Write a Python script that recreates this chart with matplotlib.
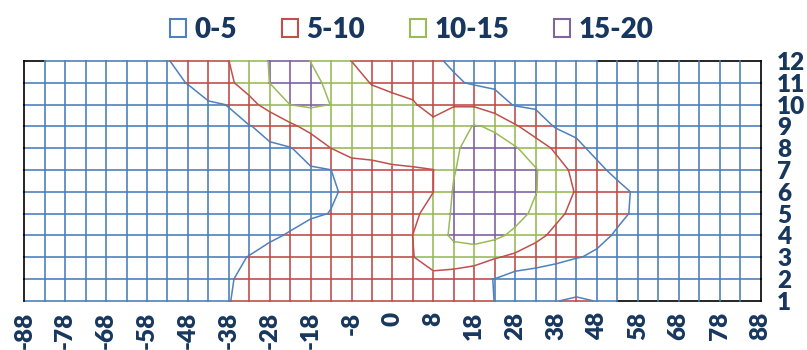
import numpy as np
import matplotlib.pyplot as plt
from matplotlib.collections import LineCollection
from matplotlib.patches import Patch

plt.rcParams['font.family'] = ['Lato', 'DejaVu Sans']

# category axis labels (every second column is labelled)
x_labels = ['-88', '-78', '-68', '-58', '-48', '-38', '-28', '-18', '-8', '0',
            '8', '18', '28', '38', '48', '58', '68', '78', '88']
y_labels = ['1', '2', '3', '4', '5', '6', '7', '8', '9', '10', '11', '12']

band_names = ['0-5', '5-10', '10-15', '15-20']
band_colors = ['#4F81BD', '#C0504D', '#9BBB59', '#8064A2']
levels = [5, 10, 15]

# surface values, one list per series (series 1 = bottom row)
row_1 = [0, 0.5, 1.0, 1.5, 2.0, 2.5, 3.0, 3.5, 4.0, 4.45, 4.89, 6.0, 6.4, 6.8, 7.1, 7.4, 7.6, 7.7,
         7.7, 7.6, 7.3, 6.8, 6.0, 4.97, 4.9, 4.85, 4.79, 5.8, 4.79, 0, 0, 0, 0, 0, 0, 0, 0]
row_2 = [0, 0.48, 0.97, 1.45, 1.93, 2.42, 2.9, 3.38, 3.86, 4.35, 4.83, 5.5, 6.0, 6.5, 7.0, 7.5, 7.9,
         8.3, 8.6, 8.9, 8.94, 7.55, 5.2, 4.98, 2.8, 2.2, 1.4, 1.2, 1.0, 0.9, 0.8, 0.7, 0.55, 0.4, 0.3,
         0.15, 0]
row_3 = [0, 0.46, 0.92, 1.38, 1.83, 2.29, 2.75, 3.21, 3.67, 4.13, 4.59, 5.06, 5.66, 6.27, 6.87, 7.47,
         8.07, 8.67, 9.28, 9.88, 11.8, 13.0, 13.2, 10.4, 9.07, 7.84, 6.6, 5.2, 4.5, 4.0, 3.45, 2.87,
         2.3, 1.72, 1.15, 0.57, 0]
row_4 = [0, 0.39, 0.78, 1.17, 1.56, 1.95, 2.34, 2.73, 3.13, 3.52, 3.91, 4.3, 4.69, 5.16, 5.97, 6.77,
         7.58, 8.39, 9.19, 10.02, 12.94, 15.8, 16.3, 16.2, 13.89, 11.11, 9.03, 7.42, 5.81, 4.67, 4.0,
         3.33, 2.67, 2.0, 1.33, 0.67, 0]
row_5 = [0, 0.33, 0.67, 1.0, 1.34, 1.67, 2.0, 2.34, 2.68, 3.01, 3.34, 3.68, 4.01, 4.35, 4.68, 5.06,
         6.16, 7.27, 8.38, 9.48, 11.0, 15.8, 17.3, 17.5, 16.8, 13.99, 10.92, 8.86, 7.23, 5.6, 4.53,
         3.77, 3.0, 2.26, 1.5, 0.75, 0]
row_6 = [0, 0.32, 0.64, 0.96, 1.28, 1.6, 1.91, 2.23, 2.55, 2.87, 3.19, 3.51, 3.83, 4.15, 4.47, 4.79,
         5.37, 6.53, 7.69, 8.84, 9.97, 15.4, 17.5, 18.0, 17.5, 15.2, 12.36, 9.67, 7.72, 5.78, 4.55,
         3.8, 3.03, 2.27, 1.5, 0.75, 0]
row_7 = [0, 0.33, 0.66, 0.99, 1.32, 1.66, 1.99, 2.32, 2.65, 2.98, 3.31, 3.64, 3.97, 4.3, 4.64, 4.97,
         8.78, 8.77, 9.4, 9.65, 9.95, 14.7, 17.5, 18.0, 17.0, 15.34, 11.9, 8.78, 5.6, 4.3, 3.7, 3.1,
         2.5, 1.9, 1.25, 0.6, 0]
row_8 = [0, 0.37, 0.74, 1.11, 1.48, 1.85, 2.22, 2.59, 2.96, 3.33, 3.7, 4.07, 4.44, 4.81, 6.67, 10.02,
         11.0, 11.5, 11.8, 12.0, 12.5, 14.6, 15.9, 16.3, 15.47, 12.34, 9.24, 5.6, 4.3, 3.8, 3.3, 2.8,
         2.2, 1.7, 1.1, 0.55, 0]
row_9 = [0, 0.43, 0.87, 1.3, 1.74, 2.17, 2.6, 3.04, 3.48, 3.91, 4.35, 4.78, 6.32, 8.95, 11.6, 12.5,
         12.8, 12.6, 12.4, 12.2, 12.0, 12.7, 15.3, 14.5, 10.59, 7.5, 4.6, 4.3, 4.0, 3.6, 3.2, 2.8, 2.3,
         1.8, 1.2, 0.6, 0]
row_10 = [0, 0.51, 1.01, 1.52, 2.03, 2.54, 3.04, 3.55, 4.06, 4.56, 5.1, 8.61, 11.8, 15.05, 15.6,
          14.97, 13.6, 12.3, 11.5, 10.65, 7.4, 9.7, 9.4, 7.0, 4.64, 4.3, 4.0, 3.7, 3.35, 3.0, 2.6, 2.2,
          1.8, 1.4, 0.95, 0.5, 0]
row_11 = [0, 0.63, 1.26, 1.88, 2.51, 3.14, 3.77, 4.40, 5.08, 7.17, 9.27, 11.97, 15.05, 16.2, 15.6,
          14.51, 11.93, 9.74, 8.70, 7.66, 6.62, 5.57, 4.5, 4.15, 3.8, 3.45, 3.1, 2.8, 2.5, 2.2, 1.9,
          1.6, 1.3, 1.0, 0.7, 0.35, 0]
row_12 = [0, 0, 0.8, 1.6, 2.4, 3.2, 4.0, 4.8, 6.4, 8.2, 9.97, 12.6, 15.2, 16.0, 14.97, 12.5, 9.98,
          8.9, 7.8, 6.7, 5.6, 4.4, 4.0, 3.3, 2.7, 2.0, 1.3, 0.7, 0, 0, 0, 0, 0, 0, 0, 0, 0]

Z = np.array([row_1, row_2, row_3, row_4, row_5, row_6,
              row_7, row_8, row_9, row_10, row_11, row_12])
ny, nx = Z.shape
navy = '#17375E'

segs, cols = [], []


def add_wire(p0, p1, z0, z1, edge):
    # outer edge where the surface sits at zero shows the black floor line
    if edge and z0 == 0 and z1 == 0:
        segs.append([p0, p1])
        cols.append('black')
        return
    ts = [0.0, 1.0]
    for lv in levels:
        if (z0 - lv) * (z1 - lv) < 0:
            ts.append((lv - z0) / (z1 - z0))
    ts.sort()
    p0, p1 = np.array(p0, float), np.array(p1, float)
    for a, b in zip(ts[:-1], ts[1:]):
        zm = z0 + (z1 - z0) * (a + b) / 2
        k = int(np.searchsorted(levels, zm, side='right'))
        segs.append([p0 + a * (p1 - p0), p0 + b * (p1 - p0)])
        cols.append(band_colors[k])


for j in range(ny):
    for i in range(nx - 1):
        add_wire((i, j), (i + 1, j), Z[j, i], Z[j, i + 1], j in (0, ny - 1))
for i in range(nx):
    for j in range(ny - 1):
        add_wire((i, j), (i, j + 1), Z[j, i], Z[j + 1, i], i in (0, nx - 1))

fig = plt.figure(figsize=(8.07, 3.5), dpi=100)
ax = fig.add_axes([24.3 / 807, 1 - 300.7 / 350, (760.5 - 24.3) / 807, (300.7 - 61) / 350])

ax.add_collection(LineCollection(segs, colors=cols, linewidths=1.2, clip_on=False,
                                 capstyle='projecting'))
ax.contour(np.arange(nx), np.arange(ny), Z, levels=levels, colors=band_colors[:3],
           linewidths=1.1)

ax.set_xlim(0, nx - 1)
ax.set_ylim(0, ny - 1)
for s in ax.spines.values():
    s.set_visible(False)

ax.set_xticks(np.arange(0, nx, 2))
ax.set_xticklabels(x_labels, rotation=90, fontsize=17.5, fontweight='heavy', color=navy)
ax.tick_params(axis='x', length=0, pad=8)
ax.yaxis.tick_right()
ax.set_yticks(np.arange(ny))
ax.set_yticklabels(y_labels, fontsize=17.5, fontweight='heavy', color=navy)
ax.tick_params(axis='y', length=0, pad=12)

handles = [Patch(facecolor='white', edgecolor=c, linewidth=1.5, label=n)
           for n, c in zip(band_names, band_colors)]
fig.legend(handles=handles, loc='upper center', bbox_to_anchor=(0.51, 1.0), ncol=4,
           frameon=False, prop={'weight': 'heavy', 'size': 20}, labelcolor=navy,
           handlelength=0.6, handleheight=0.6, handletextpad=0.3, columnspacing=1.6,
           borderaxespad=0.2)

fig.savefig('out.png', dpi=100)
